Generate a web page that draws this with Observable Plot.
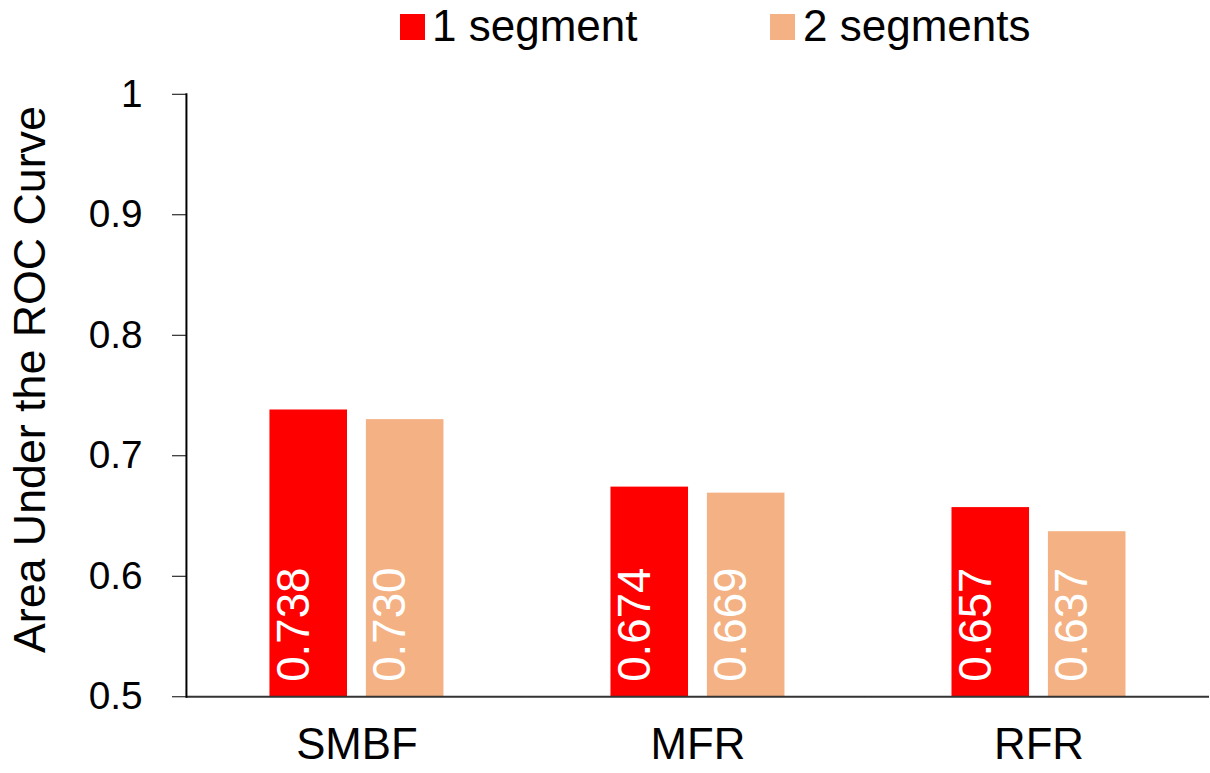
<!DOCTYPE html>
<html>
<head>
<meta charset="utf-8">
<script src="https://cdn.jsdelivr.net/npm/d3@7"></script>
<script src="https://cdn.jsdelivr.net/npm/@observablehq/plot@0.6"></script>
<style>
  html, body { margin: 0; padding: 0; background: #fff; overflow: hidden; width: 1210px; height: 773px; }
  body { font-family: "Liberation Sans", Arial, sans-serif; }
  #legend { position: relative; height: 55px; width: 1210px; }
  .sw { position: absolute; top: 14px; width: 25px; height: 26px; }
  .lt { position: absolute; top: 4px; font-size: 44px; line-height: 44px; color: #000; white-space: nowrap; }
  #chart svg { display: block; }
</style>
</head>
<body>
<div id="legend"></div>
<div id="chart"></div>
<script>
const categories = ["SMBF", "MFR", "RFR"];
const series = ["1 segment", "2 segments"];
const seg1 = [0.738, 0.674, 0.657];
const seg2 = [0.730, 0.669, 0.637];
const colors = ["#FF0000", "#F4B183"];
const yTicks = [0.5, 0.6, 0.7, 0.8, 0.9, 1];
const yLabel = "Area Under the ROC Curve";

const data = categories.flatMap((c, i) => [
  {cat: c, series: series[0], value: seg1[i]},
  {cat: c, series: series[1], value: seg2[i]}
]);

// legend
const legendPos = [{sw: 400, tx: 432}, {sw: 770, tx: 803}];
const leg = document.getElementById("legend");
series.forEach((s, i) => {
  const sw = document.createElement("div");
  sw.className = "sw";
  sw.style.left = legendPos[i].sw + "px";
  sw.style.background = colors[i];
  leg.appendChild(sw);
  const t = document.createElement("div");
  t.className = "lt";
  t.style.left = legendPos[i].tx + "px";
  t.textContent = s;
  leg.appendChild(t);
});

const yMin = yTicks[0];

const chart = Plot.plot({
  width: 1217,
  height: 718,
  marginLeft: 186,
  marginRight: 0,
  marginTop: 39,
  marginBottom: 73,
  style: {fontFamily: "'Liberation Sans', Arial, sans-serif", background: "white", color: "#000"},
  fx: {domain: categories, paddingInner: 0, paddingOuter: 0},
  x: {domain: series, paddingInner: 0.194, paddingOuter: 0.85},
  y: {domain: [yMin, yTicks[yTicks.length - 1]]},
  color: {domain: series, range: colors},
  marks: [
    Plot.barY(data, {fx: "cat", x: "series", y1: () => yMin, y2: "value", fill: "series"}),
    Plot.text(data, {
      fx: "cat", x: "series", text: d => d.value.toFixed(3),
      frameAnchor: "bottom", rotate: -90, textAnchor: "start",
      dy: -15, fill: "white", fontSize: 46
    }),
    Plot.ruleY([yMin], {stroke: "#333", strokeWidth: 2}),
    Plot.frame({anchor: "left", facetAnchor: "left", stroke: "#000", strokeWidth: 2}),
    Plot.axisY({
      ticks: yTicks, tickSize: 14, tickPadding: 30, fontSize: 39,
      tickFormat: d => d === 1 ? "1" : d.toFixed(1),
      label: null
    }),
    Plot.text([yLabel], {
      fx: () => categories[0], text: d => d,
      frameAnchor: "left", rotate: -90, lineAnchor: "top", textAnchor: "middle",
      dx: -174, dy: -16, fontSize: 45, fill: "#000"
    }),
    Plot.axisFx({anchor: "bottom", tickSize: 0, tickPadding: 31, fontSize: 44, label: null}),
    Plot.axisX({ticks: [], label: null, tickSize: 0})
  ]
});
document.getElementById("chart").appendChild(chart);
</script>
</body>
</html>
